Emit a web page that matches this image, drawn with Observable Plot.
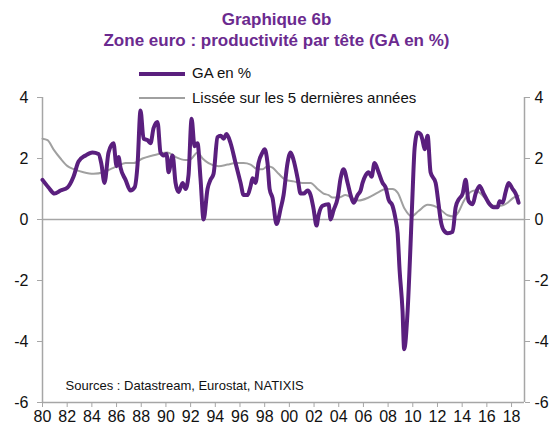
<!DOCTYPE html>
<html>
<head>
<meta charset="utf-8">
<script src="https://cdn.jsdelivr.net/npm/d3@7"></script>
<script src="https://cdn.jsdelivr.net/npm/@observablehq/plot@0.6"></script>
<style>
  body { margin: 0; background: #fff; font-family: "Liberation Sans", Arial, sans-serif; }
  #wrap { position: relative; width: 553px; height: 428px; overflow: hidden; }
  #wrap svg { position: absolute; left: 0; top: 0; }
  .title { position: absolute; left: 0; width: 553px; text-align: center; color: #6b2a8f; font-weight: bold; font-size: 17px; }
  .leg { position: absolute; font-size: 15px; color: #111; }
  .sw { position: absolute; }
</style>
</head>
<body>
<div id="wrap">
  <div class="title" style="top:10px">Graphique 6b</div>
  <div class="title" style="top:31px">Zone euro : productivité par tête (GA en %)</div>
  <div class="sw" style="left:139px;top:72px;width:46px;height:4px;background:#5a1f7e"></div>
  <div class="leg" style="left:192px;top:64px">GA en %</div>
  <div class="sw" style="left:139px;top:97px;width:46px;height:2px;background:#a0a0a0"></div>
  <div class="leg" style="left:192px;top:89px">Lissée sur les 5 dernières années</div>
</div>
<script>
// GA en % (glissement annuel)
const gaYears = [1980.00,1980.49,1980.97,1981.46,1982.03,1982.51,1982.92,1983.49,1984.05,1984.54,1984.78,1985.02,1985.35,1985.75,1986.00,1986.16,1986.32,1986.73,1987.13,1987.46,1987.70,1987.94,1988.19,1988.51,1988.75,1989.00,1989.32,1989.56,1989.81,1990.05,1990.21,1990.54,1990.78,1991.02,1991.35,1991.59,1991.83,1992.08,1992.32,1992.56,1992.80,1993.05,1993.37,1993.61,1993.86,1994.18,1994.43,1994.67,1994.91,1995.24,1995.64,1996.05,1996.29,1996.61,1996.86,1997.02,1997.26,1997.50,1997.83,1997.99,1998.23,1998.40,1998.64,1998.96,1999.29,1999.53,1999.85,2000.10,2000.34,2000.67,2000.91,2001.15,2001.48,2001.72,2001.96,2002.20,2002.37,2002.69,2003.18,2003.34,2003.58,2003.91,2004.15,2004.39,2004.72,2004.96,2005.20,2005.53,2005.77,2005.93,2006.18,2006.42,2006.66,2006.90,2007.23,2007.55,2007.80,2008.04,2008.36,2008.61,2008.77,2008.93,2009.17,2009.30,2009.58,2009.82,2009.98,2010.15,2010.39,2010.63,2010.79,2010.96,2011.20,2011.44,2011.85,2012.09,2012.25,2012.50,2012.82,2013.23,2013.47,2013.71,2014.04,2014.28,2014.52,2014.85,2015.09,2015.41,2015.74,2016.14,2016.55,2016.87,2017.03,2017.28,2017.52,2017.76,2018.09,2018.33,2018.57];
const gaValues = [1.3,1.05,0.85,0.95,1.05,1.4,1.9,2.1,2.2,2.15,1.8,1.2,2.2,2.5,1.75,2.05,1.7,1.3,0.95,1.05,1.8,3.57,2.65,2.6,2.5,3.0,3.2,2.2,2.1,2.15,1.55,2.1,1.2,0.9,1.2,1.0,1.45,3.3,2.4,2.5,1.35,0.0,1.0,1.3,1.5,2.7,2.75,2.65,2.8,2.5,1.85,1.2,0.8,0.8,1.1,1.35,1.2,1.85,2.2,2.3,1.85,1.0,0.7,-0.15,0.35,0.8,1.85,2.2,1.95,1.35,0.85,0.85,0.95,0.8,0.35,-0.2,0.15,0.45,0.5,0.0,0.3,0.7,1.35,1.65,1.2,0.8,0.55,0.8,0.95,1.2,1.45,1.55,1.4,1.85,1.55,1.2,1.05,0.65,0.45,0.0,-0.45,-1.65,-3.0,-4.25,-3.0,-0.8,0.85,2.35,2.85,2.8,2.6,2.3,2.75,1.55,1.2,0.5,0.0,-0.35,-0.45,-0.4,0.4,0.65,0.85,1.3,0.6,0.5,0.85,1.1,0.85,0.55,0.4,0.4,0.6,0.55,0.9,1.2,1.0,0.85,0.55];

// Lissée sur les 5 dernières années
const smYears = [1980.00,1980.41,1980.89,1981.46,1982.03,1982.51,1983.32,1984.13,1984.94,1985.51,1986.08,1986.73,1987.37,1988.10,1988.91,1989.40,1990.13,1990.78,1991.59,1991.99,1992.56,1992.97,1993.45,1994.26,1994.99,1995.64,1996.29,1996.86,1997.42,1997.83,1998.23,1998.64,1999.13,1999.69,2000.34,2001.07,2001.72,2002.29,2002.77,2003.18,2003.50,2003.99,2004.55,2005.12,2005.61,2006.42,2007.23,2007.80,2008.36,2008.77,2009.34,2009.90,2010.47,2011.20,2011.69,2012.25,2012.82,2013.31,2013.71,2014.12,2014.68,2015.01,2015.49,2016.06,2016.55,2017.11,2017.68,2018.17,2018.57];
const smValues = [2.65,2.6,2.3,2.0,1.75,1.65,1.55,1.5,1.55,1.65,1.75,1.85,1.85,2.0,2.1,2.15,2.2,2.05,1.95,1.97,2.2,2.0,1.85,1.75,1.8,1.85,1.85,1.8,1.65,1.65,1.75,1.7,1.5,1.3,1.25,1.2,1.2,1.0,0.85,0.8,0.72,0.72,0.8,0.7,0.62,0.72,0.9,1.0,1.0,0.88,0.35,0.1,0.28,0.48,0.45,0.32,0.14,0.1,0.25,0.6,0.9,0.95,0.85,0.6,0.45,0.45,0.55,0.72,0.78];

const yTicks = [-6, -4, -2, 0, 2, 4];
const xTicks = d3.range(1980, 2019, 2);
const xLabels = xTicks.map(y => String(y % 100).padStart(2, "0"));
const sourceText = "Sources : Datastream, Eurostat, NATIXIS";

const ga = gaYears.map((x, i) => ({x, y: gaValues[i]}));
const sm = smYears.map((x, i) => ({x, y: smValues[i]}));
const axisColor = "#a6a6a6";
const xMax = 2019.05;

const chart = Plot.plot({
  width: 553,
  height: 428,
  marginTop: 97,
  marginBottom: 26,
  marginLeft: 42,
  marginRight: 29,
  style: {fontFamily: "'Liberation Sans', Arial, sans-serif", fontSize: "16px", color: "#111", background: "transparent"},
  x: {domain: [1980, xMax]},
  y: {domain: [-6, 4]},
  marks: [
    Plot.ruleY([0], {stroke: axisColor, strokeWidth: 1.5}),
    Plot.ruleX([1980], {stroke: axisColor, strokeWidth: 1.5}),
    Plot.ruleX([xMax], {stroke: axisColor, strokeWidth: 1.5}),
    Plot.ruleY([-6], {stroke: axisColor, strokeWidth: 1.5}),
    Plot.axisY({anchor: "left", ticks: yTicks, tickSize: 5, tickPadding: 9, stroke: axisColor, fontSize: 16, tickFormat: d => String(d), label: null}),
    Plot.axisY({anchor: "right", ticks: yTicks, tickSize: 5, tickPadding: 5, stroke: axisColor, fontSize: 16, tickFormat: d => String(d), label: null}),
    Plot.axisX({ticks: xTicks, tickSize: 5, tickPadding: 3, stroke: axisColor, fontSize: 16, tickFormat: (d, i) => xLabels[i], label: null}),
    Plot.line(sm, {x: "x", y: "y", stroke: "#a0a0a0", strokeWidth: 2, curve: "monotone-x"}),
    Plot.line(ga, {x: "x", y: "y", stroke: "#5a1f7e", strokeWidth: 4, curve: "monotone-x", strokeLinejoin: "round"}),
    Plot.text([sourceText], {frameAnchor: "bottom-left", dx: 23, dy: -13, fontSize: 13, fill: "#111", textAnchor: "start"})
  ]
});
document.getElementById("wrap").prepend(chart);
</script>
</body>
</html>
